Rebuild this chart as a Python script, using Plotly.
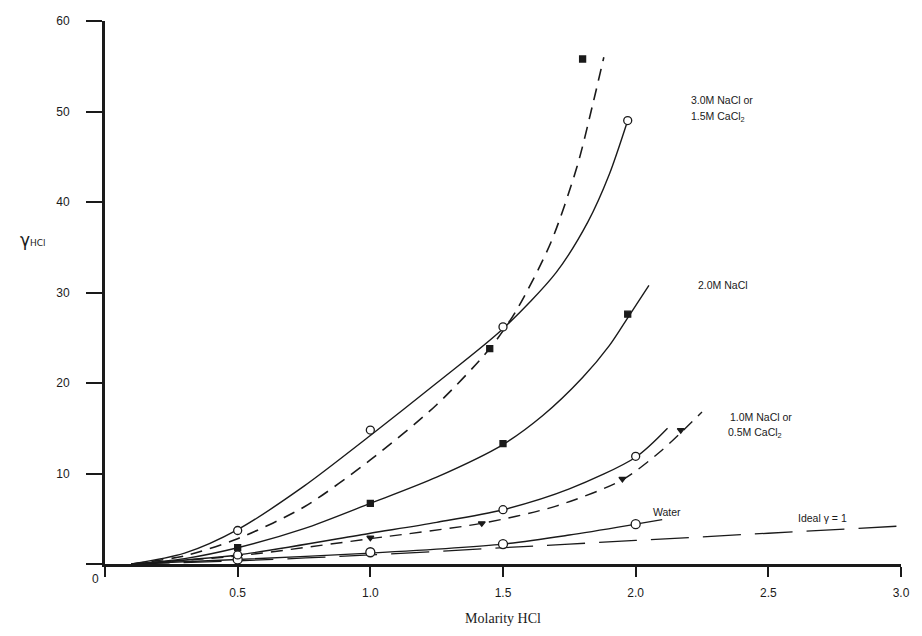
import plotly.graph_objects as go

# ---- data ----
# 3.0M NaCl (solid curve, open circles)
nacl3_curve_x = [0.1, 0.3, 0.5, 0.75, 1.0, 1.25, 1.5, 1.7, 1.82, 1.9, 1.97]
nacl3_curve_y = [0.0, 1.2, 3.8, 8.6, 14.2, 20.0, 26.0, 32.2, 37.8, 43.0, 49.0]
nacl3_pts_x = [0.5, 1.0, 1.5, 1.97]
nacl3_pts_y = [3.7, 14.8, 26.2, 49.0]

# 1.5M CaCl2 (dashed curve, filled squares)
cacl15_curve_x = [0.1, 0.3, 0.5, 0.75, 1.0, 1.25, 1.45, 1.55, 1.68, 1.78, 1.84, 1.88]
cacl15_curve_y = [0.0, 0.9, 2.8, 6.3, 11.5, 17.6, 23.8, 28.0, 35.5, 44.0, 51.0, 56.0]
cacl15_pts_x = [1.45, 1.80]
cacl15_pts_y = [23.8, 55.8]

# 2.0M NaCl (solid curve, filled squares)
nacl2_curve_x = [0.1, 0.3, 0.5, 0.75, 1.0, 1.25, 1.5, 1.65, 1.8, 1.9, 1.97, 2.05]
nacl2_curve_y = [0.0, 0.6, 1.8, 3.9, 6.7, 9.6, 13.2, 16.4, 20.6, 24.1, 27.2, 30.8]
nacl2_pts_x = [0.5, 1.0, 1.5, 1.97]
nacl2_pts_y = [1.8, 6.7, 13.3, 27.6]

# 1.0M NaCl (solid curve, open circles)
nacl1_curve_x = [0.1, 0.5, 1.0, 1.25, 1.5, 1.75, 2.0, 2.12]
nacl1_curve_y = [0.0, 1.0, 3.4, 4.6, 6.0, 8.3, 11.8, 15.0]
nacl1_pts_x = [0.5, 1.5, 2.0]
nacl1_pts_y = [1.0, 6.0, 11.9]

# 0.5M CaCl2 (dashed curve, filled triangles)
cacl05_curve_x = [0.1, 0.5, 1.0, 1.42, 1.7, 1.95, 2.1, 2.25]
cacl05_curve_y = [0.0, 0.9, 2.8, 4.5, 6.4, 9.3, 12.6, 16.8]
cacl05_pts_x = [1.0, 1.42, 1.95, 2.17]
cacl05_pts_y = [2.9, 4.5, 9.4, 14.8]

# Water (solid curve, open circles)
water_curve_x = [0.1, 0.5, 1.0, 1.5, 1.75, 2.0, 2.1]
water_curve_y = [0.0, 0.5, 1.2, 2.2, 3.2, 4.4, 4.9]
water_pts_x = [0.5, 1.0, 1.5, 2.0]
water_pts_y = [0.5, 1.3, 2.2, 4.4]

# Ideal gamma = 1 (long dashed)
ideal_x = [0.1, 0.5, 1.0, 1.5, 2.0, 2.5, 3.0]
ideal_y = [0.0, 0.35, 1.0, 1.8, 2.6, 3.4, 4.2]

x_ticks = [0, 0.5, 1.0, 1.5, 2.0, 2.5, 3.0]
x_labels = ["", "0.5", "1.0", "1.5", "2.0", "2.5", "3.0"]
y_ticks = [0, 10, 20, 30, 40, 50, 60]
y_labels = ["", "10", "20", "30", "40", "50", "60"]

INK = "#1a1a1a"
fig = go.Figure()

def curve(x, y, dash="solid", width=1.4):
    fig.add_trace(go.Scatter(x=x, y=y, mode="lines",
                             line=dict(color=INK, width=width, dash=dash, shape="spline", smoothing=0.8),
                             showlegend=False, hoverinfo="skip"))

def pts(x, y, symbol, filled, size=8):
    fig.add_trace(go.Scatter(x=x, y=y, mode="markers",
                             marker=dict(symbol=symbol, size=size, color=INK if filled else "white",
                                         line=dict(color=INK, width=1.3)),
                             showlegend=False, hoverinfo="skip"))

curve(ideal_x, ideal_y, dash="38px,14px", width=1.3)
curve(water_curve_x, water_curve_y)
curve(nacl1_curve_x, nacl1_curve_y)
curve(cacl05_curve_x, cacl05_curve_y, dash="12px,8px")
curve(nacl2_curve_x, nacl2_curve_y)
curve(nacl3_curve_x, nacl3_curve_y)
curve(cacl15_curve_x, cacl15_curve_y, dash="12px,8px", width=1.6)

pts(water_pts_x, water_pts_y, "circle", False, 9)
pts(nacl1_pts_x, nacl1_pts_y, "circle", False, 8)
pts(cacl05_pts_x, cacl05_pts_y, "triangle-down", True, 6)
pts(nacl2_pts_x, nacl2_pts_y, "square", True, 6)
pts(nacl3_pts_x, nacl3_pts_y, "circle", False, 8)
pts(cacl15_pts_x, cacl15_pts_y, "square", True, 6)

L, R, T, B = 105, 19, 21, 72
W, H = 922, 636

def px(x):
    return (x - L) / (W - L - R)

def py(y):
    return 1 - (y - T) / (H - T - B)

lab_font = dict(family="Liberation Sans, Arial, sans-serif", size=10.5, color=INK)
anns = [
    (690, 100, "3.0M NaCl or"),
    (690, 117, "1.5M CaCl<sub>2</sub>"),
    (697, 285, "2.0M NaCl"),
    (730, 417, "1.0M NaCl or"),
    (728, 433, "0.5M CaCl<sub>2</sub>"),
    (652, 512, "Water"),
    (798, 518, "Ideal γ = 1"),
]
for x, y, t in anns:
    fig.add_annotation(x=px(x), y=py(y), xref="paper", yref="paper", text=t, showarrow=False,
                       xanchor="left", yanchor="middle", font=lab_font)

fig.add_annotation(x=px(95), y=py(579), xref="paper", yref="paper", text="0", showarrow=False,
                   xanchor="center", yanchor="middle",
                   font=dict(family="Liberation Sans, Arial, sans-serif", size=12, color=INK))
fig.add_annotation(x=px(18), y=py(240), xref="paper", yref="paper", xanchor="left", yanchor="middle",
                   text="γ<span style='font-size:9px'>HCl</span>", showarrow=False,
                   font=dict(family="DejaVu Sans, sans-serif", size=17, color=INK))

tick_font = dict(family="Liberation Sans, Arial, sans-serif", size=12, color=INK)
fig.update_layout(
    width=W, height=H, margin=dict(l=L, r=R, t=T, b=B),
    paper_bgcolor="white", plot_bgcolor="white",
    xaxis=dict(range=[0, 3.0], tickvals=x_ticks, ticktext=x_labels, showgrid=False, zeroline=False,
               showline=True, linecolor=INK, linewidth=3, ticks="outside", ticklen=10, tickwidth=2,
               tickcolor=INK, tickfont=tick_font, ticklabelstandoff=6,
               title=dict(text="Molarity HCl",
                          font=dict(family="Liberation Serif, Times New Roman, serif", size=14, color=INK),
                          standoff=14)),
    yaxis=dict(range=[0, 60], tickvals=y_ticks, ticktext=y_labels, showgrid=False, zeroline=False,
               showline=True, linecolor=INK, linewidth=3, ticks="outside", ticklen=16, tickwidth=2,
               tickcolor=INK, tickfont=tick_font, ticklabelstandoff=14),
)

fig.write_html("out.html")
